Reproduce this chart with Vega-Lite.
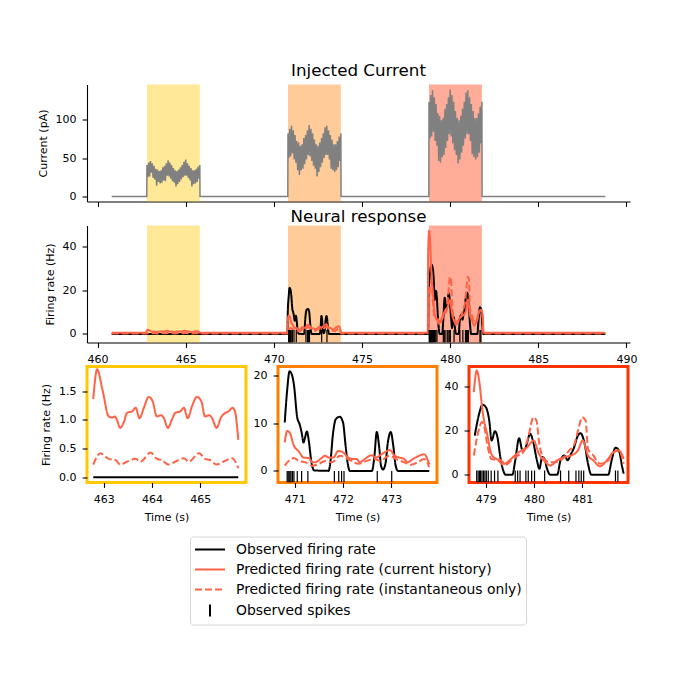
{
"$schema":"https://vega.github.io/schema/vega-lite/v6.json",
"autosize":{"type":"pad"},
"padding":{"left":37,"top":62.5,"right":5,"bottom":5},
"background":"white",
"config":{
 "font":"DejaVu Sans",
 "view":{"stroke":null},
 "axis":{"labelFont":"DejaVu Sans","titleFont":"DejaVu Sans","labelFontSize":11,"titleFontSize":11,"titleFontWeight":"normal","labelColor":"#000","titleColor":"#000","tickColor":"#000","domainColor":"#000","tickSize":4.9,"tickWidth":1.1,"domainWidth":1.1,"labelPadding":3.5,"titlePadding":6,"grid":false,"labelFlush":false,"labelOverlap":false},
 "axisX":{"labelPadding":6,"titlePadding":7},
 "axisY":{"labelPadding":6,"titlePadding":7},
 "title":{"font":"DejaVu Sans","fontSize":16.7,"fontWeight":"normal","color":"#000","anchor":"middle","frame":"group","baseline":"alphabetic"}
},
"datasets":{
 "spans":[{"k":1,"start":462.8,"end":465.8},{"k":2,"start":470.8,"end":473.8},{"k":3,"start":478.8,"end":481.8}],
 "current":[
{"t":460.8,"I":0},{"t":462.79,"I":0},
{"t":462.8,"I":41},{"t":462.85,"I":25},{"t":462.9,"I":44},{"t":462.95,"I":26},{"t":463.0,"I":46},{"t":463.05,"I":31},{"t":463.1,"I":43},{"t":463.15,"I":24},{"t":463.2,"I":40},{"t":463.25,"I":22},
{"t":463.3,"I":36},{"t":463.35,"I":14},{"t":463.4,"I":35},{"t":463.45,"I":19},{"t":463.5,"I":33},{"t":463.55,"I":17},{"t":463.6,"I":34},{"t":463.65,"I":18},{"t":463.7,"I":38},{"t":463.75,"I":21},
{"t":463.8,"I":40},{"t":463.85,"I":20},{"t":463.9,"I":43},{"t":463.95,"I":27},{"t":464.0,"I":47},{"t":464.05,"I":26},{"t":464.1,"I":44},{"t":464.15,"I":23},{"t":464.2,"I":41},{"t":464.25,"I":20},
{"t":464.3,"I":37},{"t":464.35,"I":18},{"t":464.4,"I":34},{"t":464.45,"I":13},{"t":464.5,"I":33},{"t":464.55,"I":16},{"t":464.6,"I":35},{"t":464.65,"I":19},{"t":464.7,"I":38},{"t":464.75,"I":22},
{"t":464.8,"I":41},{"t":464.85,"I":25},{"t":464.9,"I":45},{"t":464.95,"I":27},{"t":465.0,"I":48},{"t":465.05,"I":27},{"t":465.1,"I":43},{"t":465.15,"I":24},{"t":465.2,"I":40},{"t":465.25,"I":21},
{"t":465.3,"I":37},{"t":465.35,"I":13},{"t":465.4,"I":34},{"t":465.45,"I":16},{"t":465.5,"I":34},{"t":465.55,"I":17},{"t":465.6,"I":36},{"t":465.65,"I":19},{"t":465.7,"I":39},{"t":465.75,"I":23},
{"t":465.8,"I":41},
{"t":465.81,"I":0},{"t":470.79,"I":0},
{"t":470.8,"I":82},{"t":470.85,"I":50},{"t":470.9,"I":88},{"t":470.95,"I":52},{"t":471.0,"I":92},{"t":471.05,"I":56},{"t":471.1,"I":86},{"t":471.15,"I":48},{"t":471.2,"I":80},{"t":471.25,"I":44},
{"t":471.3,"I":72},{"t":471.35,"I":34},{"t":471.4,"I":70},{"t":471.45,"I":28},{"t":471.5,"I":66},{"t":471.55,"I":34},{"t":471.6,"I":68},{"t":471.65,"I":36},{"t":471.7,"I":76},{"t":471.75,"I":42},
{"t":471.8,"I":80},{"t":471.85,"I":48},{"t":471.9,"I":86},{"t":471.95,"I":54},{"t":472.0,"I":93},{"t":472.05,"I":52},{"t":472.1,"I":88},{"t":472.15,"I":46},{"t":472.2,"I":82},{"t":472.25,"I":40},
{"t":472.3,"I":74},{"t":472.35,"I":36},{"t":472.4,"I":68},{"t":472.45,"I":26},{"t":472.5,"I":66},{"t":472.55,"I":32},{"t":472.6,"I":70},{"t":472.65,"I":38},{"t":472.7,"I":76},{"t":472.75,"I":44},
{"t":472.8,"I":82},{"t":472.85,"I":50},{"t":472.9,"I":90},{"t":472.95,"I":54},{"t":473.0,"I":92},{"t":473.05,"I":54},{"t":473.1,"I":86},{"t":473.15,"I":48},{"t":473.2,"I":80},{"t":473.25,"I":36},
{"t":473.3,"I":74},{"t":473.35,"I":34},{"t":473.4,"I":68},{"t":473.45,"I":32},{"t":473.5,"I":68},{"t":473.55,"I":34},{"t":473.6,"I":72},{"t":473.65,"I":38},{"t":473.7,"I":78},{"t":473.75,"I":46},
{"t":473.8,"I":82},
{"t":473.81,"I":0},{"t":478.79,"I":0},
{"t":478.8,"I":123},{"t":478.85,"I":75},{"t":478.9,"I":132},{"t":478.95,"I":78},{"t":479.0,"I":138},{"t":479.05,"I":84},{"t":479.1,"I":129},{"t":479.15,"I":72},{"t":479.2,"I":120},{"t":479.25,"I":66},
{"t":479.3,"I":108},{"t":479.35,"I":46},{"t":479.4,"I":105},{"t":479.45,"I":44},{"t":479.5,"I":99},{"t":479.55,"I":51},{"t":479.6,"I":102},{"t":479.65,"I":54},{"t":479.7,"I":114},{"t":479.75,"I":63},
{"t":479.8,"I":120},{"t":479.85,"I":72},{"t":479.9,"I":129},{"t":479.95,"I":81},{"t":480.0,"I":139},{"t":480.05,"I":78},{"t":480.1,"I":132},{"t":480.15,"I":69},{"t":480.2,"I":123},{"t":480.25,"I":60},
{"t":480.3,"I":111},{"t":480.35,"I":54},{"t":480.4,"I":102},{"t":480.45,"I":43},{"t":480.5,"I":99},{"t":480.55,"I":48},{"t":480.6,"I":105},{"t":480.65,"I":57},{"t":480.7,"I":114},{"t":480.75,"I":66},
{"t":480.8,"I":123},{"t":480.85,"I":75},{"t":480.9,"I":135},{"t":480.95,"I":81},{"t":481.0,"I":138},{"t":481.05,"I":81},{"t":481.1,"I":129},{"t":481.15,"I":72},{"t":481.2,"I":120},{"t":481.25,"I":55},
{"t":481.3,"I":111},{"t":481.35,"I":51},{"t":481.4,"I":102},{"t":481.45,"I":48},{"t":481.5,"I":102},{"t":481.55,"I":51},{"t":481.6,"I":108},{"t":481.65,"I":57},{"t":481.7,"I":117},{"t":481.75,"I":69},
{"t":481.8,"I":123},
{"t":481.81,"I":0},{"t":488.8,"I":0}
 ],
 "neural":[
{"p":0,"s":"obs","t":460.8,"v":0},{"p":0,"s":"obs","t":462.76,"v":0},{"p":0,"s":"obs","t":465.81,"v":0},{"p":0,"s":"obs","t":470.77,"v":0},{"p":0,"s":"obs","t":473.81,"v":0},{"p":0,"s":"obs","t":478.75,"v":0},{"p":0,"s":"obs","t":481.88,"v":0},{"p":0,"s":"obs","t":488.8,"v":0},
{"p":1,"s":"obs","t":462.78,"v":0},{"p":1,"s":"obs","t":465.79,"v":0},
{"p":2,"s":"obs","t":470.79,"v":10.2},{"p":2,"s":"obs","t":470.84,"v":17},{"p":2,"s":"obs","t":470.89,"v":21},{"p":2,"s":"obs","t":470.93,"v":20.5},{"p":2,"s":"obs","t":470.98,"v":18.2},{"p":2,"s":"obs","t":471.05,"v":11.2},{"p":2,"s":"obs","t":471.1,"v":9.8},{"p":2,"s":"obs","t":471.14,"v":8.1},{"p":2,"s":"obs","t":471.18,"v":6},{"p":2,"s":"obs","t":471.21,"v":7},{"p":2,"s":"obs","t":471.25,"v":8.3},{"p":2,"s":"obs","t":471.29,"v":6.3},{"p":2,"s":"obs","t":471.34,"v":2.1},{"p":2,"s":"obs","t":471.4,"v":0.1},{"p":2,"s":"obs","t":471.7,"v":0},{"p":2,"s":"obs","t":471.74,"v":2.1},{"p":2,"s":"obs","t":471.79,"v":7.7},{"p":2,"s":"obs","t":471.85,"v":10.9},{"p":2,"s":"obs","t":471.93,"v":11.4},{"p":2,"s":"obs","t":472.0,"v":10.2},{"p":2,"s":"obs","t":472.05,"v":5.6},{"p":2,"s":"obs","t":472.1,"v":1.4},{"p":2,"s":"obs","t":472.14,"v":0},{"p":2,"s":"obs","t":472.6,"v":0},{"p":2,"s":"obs","t":472.65,"v":3},{"p":2,"s":"obs","t":472.7,"v":8.2},{"p":2,"s":"obs","t":472.75,"v":5},{"p":2,"s":"obs","t":472.79,"v":1},{"p":2,"s":"obs","t":472.83,"v":0.3},{"p":2,"s":"obs","t":472.88,"v":1.5},{"p":2,"s":"obs","t":472.93,"v":6},{"p":2,"s":"obs","t":472.99,"v":8.2},{"p":2,"s":"obs","t":473.04,"v":5.5},{"p":2,"s":"obs","t":473.09,"v":1.2},{"p":2,"s":"obs","t":473.14,"v":0},{"p":2,"s":"obs","t":473.79,"v":0},
{"p":3,"s":"obs","t":478.77,"v":17.7},{"p":3,"s":"obs","t":478.86,"v":27.5},{"p":3,"s":"obs","t":478.93,"v":31.6},{"p":3,"s":"obs","t":479.0,"v":30.5},{"p":3,"s":"obs","t":479.07,"v":24.5},{"p":3,"s":"obs","t":479.12,"v":15.5},{"p":3,"s":"obs","t":479.19,"v":19.7},{"p":3,"s":"obs","t":479.24,"v":17},{"p":3,"s":"obs","t":479.3,"v":8},{"p":3,"s":"obs","t":479.36,"v":2},{"p":3,"s":"obs","t":479.41,"v":0},{"p":3,"s":"obs","t":479.55,"v":0},{"p":3,"s":"obs","t":479.61,"v":6.5},{"p":3,"s":"obs","t":479.69,"v":16.5},{"p":3,"s":"obs","t":479.76,"v":11},{"p":3,"s":"obs","t":479.82,"v":12},{"p":3,"s":"obs","t":479.92,"v":18.5},{"p":3,"s":"obs","t":479.97,"v":16},{"p":3,"s":"obs","t":480.06,"v":6.5},{"p":3,"s":"obs","t":480.11,"v":2.7},{"p":3,"s":"obs","t":480.17,"v":8},{"p":3,"s":"obs","t":480.22,"v":7},{"p":3,"s":"obs","t":480.27,"v":2.7},{"p":3,"s":"obs","t":480.34,"v":0},{"p":3,"s":"obs","t":480.48,"v":0},{"p":3,"s":"obs","t":480.55,"v":6.5},{"p":3,"s":"obs","t":480.63,"v":8.7},{"p":3,"s":"obs","t":480.7,"v":6.5},{"p":3,"s":"obs","t":480.75,"v":8.7},{"p":3,"s":"obs","t":480.82,"v":11.7},{"p":3,"s":"obs","t":480.91,"v":17.7},{"p":3,"s":"obs","t":480.96,"v":18.8},{"p":3,"s":"obs","t":481.05,"v":14},{"p":3,"s":"obs","t":481.12,"v":5},{"p":3,"s":"obs","t":481.19,"v":0},{"p":3,"s":"obs","t":481.54,"v":0},{"p":3,"s":"obs","t":481.61,"v":6.5},{"p":3,"s":"obs","t":481.69,"v":12.2},{"p":3,"s":"obs","t":481.76,"v":11},{"p":3,"s":"obs","t":481.83,"v":3.5},{"p":3,"s":"obs","t":481.86,"v":0.5},
{"p":0,"s":"hist","t":460.8,"v":0.5},{"p":0,"s":"hist","t":462.76,"v":0.5},{"p":0,"s":"hist","t":465.81,"v":0.5},{"p":0,"s":"hist","t":470.77,"v":0.5},{"p":0,"s":"hist","t":473.81,"v":0.5},{"p":0,"s":"hist","t":478.73,"v":0.5},{"p":0,"s":"hist","t":481.88,"v":0.5},{"p":0,"s":"hist","t":488.8,"v":0.5},
{"p":1,"s":"hist","t":462.78,"v":1.36},{"p":1,"s":"hist","t":462.86,"v":1.88},{"p":1,"s":"hist","t":462.97,"v":1.53},{"p":1,"s":"hist","t":463.1,"v":1.06},{"p":1,"s":"hist","t":463.17,"v":1.04},{"p":1,"s":"hist","t":463.23,"v":1.06},{"p":1,"s":"hist","t":463.27,"v":1.0},{"p":1,"s":"hist","t":463.34,"v":0.86},{"p":1,"s":"hist","t":463.41,"v":0.95},{"p":1,"s":"hist","t":463.48,"v":1.12},{"p":1,"s":"hist","t":463.59,"v":1.15},{"p":1,"s":"hist","t":463.66,"v":1.21},{"p":1,"s":"hist","t":463.74,"v":1.03},{"p":1,"s":"hist","t":463.83,"v":1.21},{"p":1,"s":"hist","t":463.93,"v":1.4},{"p":1,"s":"hist","t":464.01,"v":1.33},{"p":1,"s":"hist","t":464.1,"v":1.06},{"p":1,"s":"hist","t":464.19,"v":1.08},{"p":1,"s":"hist","t":464.24,"v":1.04},{"p":1,"s":"hist","t":464.33,"v":0.86},{"p":1,"s":"hist","t":464.41,"v":1.0},{"p":1,"s":"hist","t":464.48,"v":1.12},{"p":1,"s":"hist","t":464.59,"v":1.15},{"p":1,"s":"hist","t":464.66,"v":1.21},{"p":1,"s":"hist","t":464.74,"v":1.03},{"p":1,"s":"hist","t":464.83,"v":1.24},{"p":1,"s":"hist","t":464.93,"v":1.4},{"p":1,"s":"hist","t":465.02,"v":1.33},{"p":1,"s":"hist","t":465.1,"v":1.06},{"p":1,"s":"hist","t":465.19,"v":1.08},{"p":1,"s":"hist","t":465.24,"v":1.04},{"p":1,"s":"hist","t":465.34,"v":0.86},{"p":1,"s":"hist","t":465.43,"v":1.04},{"p":1,"s":"hist","t":465.52,"v":1.12},{"p":1,"s":"hist","t":465.59,"v":1.15},{"p":1,"s":"hist","t":465.67,"v":1.21},{"p":1,"s":"hist","t":465.72,"v":1.15},{"p":1,"s":"hist","t":465.79,"v":0.65},
{"p":2,"s":"hist","t":470.79,"v":6},{"p":2,"s":"hist","t":470.84,"v":8.4},{"p":2,"s":"hist","t":470.89,"v":8.1},{"p":2,"s":"hist","t":470.98,"v":5.3},{"p":2,"s":"hist","t":471.08,"v":4.1},{"p":2,"s":"hist","t":471.18,"v":2.8},{"p":2,"s":"hist","t":471.29,"v":2.7},{"p":2,"s":"hist","t":471.36,"v":1.8},{"p":2,"s":"hist","t":471.42,"v":1.8},{"p":2,"s":"hist","t":471.53,"v":2.5},{"p":2,"s":"hist","t":471.63,"v":3.2},{"p":2,"s":"hist","t":471.7,"v":2.8},{"p":2,"s":"hist","t":471.8,"v":2.8},{"p":2,"s":"hist","t":471.9,"v":4.2},{"p":2,"s":"hist","t":472.0,"v":3.9},{"p":2,"s":"hist","t":472.11,"v":2.8},{"p":2,"s":"hist","t":472.21,"v":2.5},{"p":2,"s":"hist","t":472.28,"v":2.5},{"p":2,"s":"hist","t":472.35,"v":1.8},{"p":2,"s":"hist","t":472.45,"v":2.5},{"p":2,"s":"hist","t":472.59,"v":3.3},{"p":2,"s":"hist","t":472.69,"v":2.8},{"p":2,"s":"hist","t":472.76,"v":3.2},{"p":2,"s":"hist","t":472.86,"v":3.9},{"p":2,"s":"hist","t":472.97,"v":4.4},{"p":2,"s":"hist","t":473.07,"v":3.2},{"p":2,"s":"hist","t":473.17,"v":2.8},{"p":2,"s":"hist","t":473.27,"v":2.5},{"p":2,"s":"hist","t":473.34,"v":1.8},{"p":2,"s":"hist","t":473.45,"v":2.5},{"p":2,"s":"hist","t":473.58,"v":3.2},{"p":2,"s":"hist","t":473.68,"v":3.5},{"p":2,"s":"hist","t":473.79,"v":1.4},
{"p":3,"s":"hist","t":478.75,"v":37.3},{"p":3,"s":"hist","t":478.81,"v":47.1},{"p":3,"s":"hist","t":478.86,"v":42.6},{"p":3,"s":"hist","t":478.93,"v":29},{"p":3,"s":"hist","t":479.04,"v":17},{"p":3,"s":"hist","t":479.11,"v":9.5},{"p":3,"s":"hist","t":479.21,"v":7.2},{"p":3,"s":"hist","t":479.32,"v":6.5},{"p":3,"s":"hist","t":479.39,"v":5},{"p":3,"s":"hist","t":479.49,"v":6.5},{"p":3,"s":"hist","t":479.6,"v":8.7},{"p":3,"s":"hist","t":479.74,"v":11},{"p":3,"s":"hist","t":479.85,"v":12.2},{"p":3,"s":"hist","t":479.99,"v":15.5},{"p":3,"s":"hist","t":480.1,"v":9.5},{"p":3,"s":"hist","t":480.2,"v":6.5},{"p":3,"s":"hist","t":480.34,"v":4.2},{"p":3,"s":"hist","t":480.48,"v":6.5},{"p":3,"s":"hist","t":480.63,"v":8},{"p":3,"s":"hist","t":480.77,"v":8.7},{"p":3,"s":"hist","t":480.91,"v":11},{"p":3,"s":"hist","t":481.01,"v":15.5},{"p":3,"s":"hist","t":481.12,"v":8.7},{"p":3,"s":"hist","t":481.23,"v":6.5},{"p":3,"s":"hist","t":481.37,"v":3.8},{"p":3,"s":"hist","t":481.51,"v":6.5},{"p":3,"s":"hist","t":481.65,"v":10.2},{"p":3,"s":"hist","t":481.76,"v":11},{"p":3,"s":"hist","t":481.86,"v":7.2},
{"p":0,"s":"inst","t":460.8,"v":0.15},{"p":0,"s":"inst","t":462.76,"v":0.15},{"p":0,"s":"inst","t":465.81,"v":0.15},{"p":0,"s":"inst","t":470.77,"v":0.15},{"p":0,"s":"inst","t":473.81,"v":0.15},{"p":0,"s":"inst","t":478.73,"v":0.15},{"p":0,"s":"inst","t":481.88,"v":0.15},{"p":0,"s":"inst","t":488.8,"v":0.15},
{"p":1,"s":"inst","t":462.78,"v":0.22},{"p":1,"s":"inst","t":462.93,"v":0.42},{"p":1,"s":"inst","t":463.03,"v":0.36},{"p":1,"s":"inst","t":463.1,"v":0.32},{"p":1,"s":"inst","t":463.24,"v":0.3},{"p":1,"s":"inst","t":463.34,"v":0.22},{"p":1,"s":"inst","t":463.48,"v":0.27},{"p":1,"s":"inst","t":463.66,"v":0.32},{"p":1,"s":"inst","t":463.76,"v":0.27},{"p":1,"s":"inst","t":463.97,"v":0.43},{"p":1,"s":"inst","t":464.1,"v":0.32},{"p":1,"s":"inst","t":464.2,"v":0.3},{"p":1,"s":"inst","t":464.34,"v":0.22},{"p":1,"s":"inst","t":464.48,"v":0.27},{"p":1,"s":"inst","t":464.66,"v":0.33},{"p":1,"s":"inst","t":464.76,"v":0.27},{"p":1,"s":"inst","t":464.98,"v":0.42},{"p":1,"s":"inst","t":465.1,"v":0.32},{"p":1,"s":"inst","t":465.2,"v":0.3},{"p":1,"s":"inst","t":465.34,"v":0.22},{"p":1,"s":"inst","t":465.48,"v":0.27},{"p":1,"s":"inst","t":465.66,"v":0.33},{"p":1,"s":"inst","t":465.79,"v":0.16},
{"p":2,"s":"inst","t":470.79,"v":1.1},{"p":2,"s":"inst","t":470.88,"v":2.2},{"p":2,"s":"inst","t":470.98,"v":2.7},{"p":2,"s":"inst","t":471.08,"v":2.1},{"p":2,"s":"inst","t":471.22,"v":1.8},{"p":2,"s":"inst","t":471.36,"v":1.1},{"p":2,"s":"inst","t":471.49,"v":1.4},{"p":2,"s":"inst","t":471.63,"v":2.1},{"p":2,"s":"inst","t":471.77,"v":1.8},{"p":2,"s":"inst","t":471.94,"v":3.2},{"p":2,"s":"inst","t":472.04,"v":2.8},{"p":2,"s":"inst","t":472.18,"v":2.1},{"p":2,"s":"inst","t":472.32,"v":1.5},{"p":2,"s":"inst","t":472.49,"v":2.1},{"p":2,"s":"inst","t":472.66,"v":2.5},{"p":2,"s":"inst","t":472.76,"v":2.1},{"p":2,"s":"inst","t":472.97,"v":3.2},{"p":2,"s":"inst","t":473.1,"v":2.5},{"p":2,"s":"inst","t":473.27,"v":1.8},{"p":2,"s":"inst","t":473.41,"v":1.3},{"p":2,"s":"inst","t":473.55,"v":1.8},{"p":2,"s":"inst","t":473.68,"v":2.5},{"p":2,"s":"inst","t":473.79,"v":0.8},
{"p":3,"s":"inst","t":478.75,"v":8.7},{"p":3,"s":"inst","t":478.84,"v":19.2},{"p":3,"s":"inst","t":478.92,"v":23.8},{"p":3,"s":"inst","t":478.96,"v":22.3},{"p":3,"s":"inst","t":479.04,"v":12.5},{"p":3,"s":"inst","t":479.11,"v":7.2},{"p":3,"s":"inst","t":479.25,"v":6.5},{"p":3,"s":"inst","t":479.39,"v":4.2},{"p":3,"s":"inst","t":479.53,"v":6.5},{"p":3,"s":"inst","t":479.67,"v":8.7},{"p":3,"s":"inst","t":479.78,"v":10.2},{"p":3,"s":"inst","t":479.88,"v":17},{"p":3,"s":"inst","t":479.99,"v":26},{"p":3,"s":"inst","t":480.05,"v":24.5},{"p":3,"s":"inst","t":480.1,"v":15.5},{"p":3,"s":"inst","t":480.18,"v":8},{"p":3,"s":"inst","t":480.31,"v":5.7},{"p":3,"s":"inst","t":480.45,"v":5.7},{"p":3,"s":"inst","t":480.59,"v":7.2},{"p":3,"s":"inst","t":480.73,"v":11},{"p":3,"s":"inst","t":480.84,"v":14},{"p":3,"s":"inst","t":480.93,"v":21.5},{"p":3,"s":"inst","t":481.0,"v":26},{"p":3,"s":"inst","t":481.07,"v":24.5},{"p":3,"s":"inst","t":481.12,"v":11.7},{"p":3,"s":"inst","t":481.23,"v":8.7},{"p":3,"s":"inst","t":481.37,"v":5},{"p":3,"s":"inst","t":481.51,"v":5.7},{"p":3,"s":"inst","t":481.65,"v":10.2},{"p":3,"s":"inst","t":481.76,"v":11},{"p":3,"s":"inst","t":481.86,"v":5}
 ],
 "spikes":[
{"p":2,"t":470.84},{"p":2,"t":470.86},{"p":2,"t":470.88},{"p":2,"t":470.9},{"p":2,"t":470.92},{"p":2,"t":470.95},{"p":2,"t":470.98},{"p":2,"t":471.05},{"p":2,"t":471.14},{"p":2,"t":471.27},{"p":2,"t":471.82},{"p":2,"t":471.91},{"p":2,"t":471.97},{"p":2,"t":472.02},{"p":2,"t":472.71},{"p":2,"t":473.01},
{"p":3,"t":478.81},{"p":3,"t":478.84},{"p":3,"t":478.87},{"p":3,"t":478.89},{"p":3,"t":478.92},{"p":3,"t":478.95},{"p":3,"t":478.98},{"p":3,"t":479.01},{"p":3,"t":479.05},{"p":3,"t":479.11},{"p":3,"t":479.18},{"p":3,"t":479.25},{"p":3,"t":479.61},{"p":3,"t":479.66},{"p":3,"t":479.71},{"p":3,"t":479.83},{"p":3,"t":479.88},{"p":3,"t":479.95},{"p":3,"t":480.01},{"p":3,"t":480.22},{"p":3,"t":480.55},{"p":3,"t":480.72},{"p":3,"t":480.87},{"p":3,"t":480.93},{"p":3,"t":480.98},{"p":3,"t":481.03},{"p":3,"t":481.69},{"p":3,"t":481.74}
 ]
},
"spacing":24,
"bounds":"flush",
"vconcat":[
 {
  "width":543,"height":117,
  "title":{"text":"Injected Current","offset":4.5},
  "layer":[
   {"data":{"name":"spans"},"mark":{"type":"rect","opacity":0.4},
    "encoding":{
     "x":{"field":"start","type":"quantitative","title":null,"scale":{"domain":[459.4,490.2],"nice":false,"zero":false},"axis":{"values":[460,465,470,475,480,485,490],"labels":false,"title":null}},
     "x2":{"field":"end"},
     "fill":{"field":"k","type":"nominal","scale":{"domain":[1,2,3],"range":["#FFC800","#FF8000","#FF3300"]},"legend":null}}},
   {"data":{"name":"current"},"mark":{"type":"line","color":"#808080","strokeWidth":1.5},
    "encoding":{
     "x":{"field":"t","type":"quantitative","title":null},
     "y":{"field":"I","type":"quantitative","scale":{"domain":[-6.5,145.5],"nice":false,"zero":false},"axis":{"values":[0,50,100],"title":"Current (pA)"}}}}
  ]
 },
 {
  "width":543,"height":117,
  "title":{"text":"Neural response","offset":0},
  "layer":[
   {"data":{"name":"spans"},"mark":{"type":"rect","opacity":0.4},
    "encoding":{
     "x":{"field":"start","type":"quantitative","title":null,"scale":{"domain":[459.4,490.2],"nice":false,"zero":false},"axis":{"values":[460,465,470,475,480,485,490],"format":"d","title":null}},
     "x2":{"field":"end"},
     "fill":{"field":"k","type":"nominal","scale":{"domain":[1,2,3],"range":["#FFC800","#FF8000","#FF3300"]},"legend":null}}},
   {"data":{"name":"neural"},"mark":{"type":"line","strokeWidth":2,"interpolate":"monotone"},
    "encoding":{
     "x":{"field":"t","type":"quantitative","title":null},
     "y":{"field":"v","type":"quantitative","scale":{"domain":[-3.9,49.4],"nice":false,"zero":false},"axis":{"values":[0,20,40],"title":"Firing rate (Hz)"}},
     "stroke":{"field":"s","type":"nominal","scale":{"domain":["obs","hist","inst","spk"],"range":["#000000","#FF6347","#FF6347","#000000"]},
      "legend":{"orient":"none","legendX":103,"legendY":452,"title":null,
       "labelExpr":"datum.label==='obs' ? 'Observed firing rate' : datum.label==='hist' ? 'Predicted firing rate (current history)' : datum.label==='inst' ? 'Predicted firing rate (instantaneous only)' : 'Observed spikes'",
       "labelFont":"DejaVu Sans","labelFontSize":13.9,"labelColor":"#000","labelLimit":0,
       "symbolType":"M-1.875,0L1.875,0","symbolSize":256,"symbolStrokeWidth":2,"symbolOffset":7,"labelOffset":17,
       "rowPadding":4,"padding":4,"strokeColor":"#d6d6d6","cornerRadius":3,"fillColor":"#ffffff",
       "encode":{"symbols":{"update":{
         "shape":{"signal":"datum.value==='spk' ? 'M0,-0.75L0,0.75' : 'M-1.875,0L1.875,0'"},
         "strokeDash":{"signal":"datum.value==='inst' ? [7,3] : [1,0]"}}}}}},
     "strokeDash":{"field":"s","type":"nominal","scale":{"domain":["obs","hist","inst","spk"],"range":[[1,0],[1,0],[7,3],[1,0]]},"legend":null}}},
   {"data":{"name":"spikes"},"mark":{"type":"rule","strokeWidth":1.2,"clip":true},
    "encoding":{
     "x":{"field":"t","type":"quantitative","title":null},
     "y":{"datum":-3.9},"y2":{"datum":1.8},
     "stroke":{"datum":"spk","type":"nominal"}}}
  ]
 },
 {
  "spacing":32,
  "bounds":"flush",
  "hconcat":[
   {
    "width":159,"height":116,
    "view":{"stroke":"#FFC800","strokeWidth":3},
    "layer":[
     {"data":{"name":"neural"},"transform":[{"filter":"datum.p==1"}],"mark":{"type":"line","strokeWidth":2,"interpolate":"monotone","clip":true},
      "encoding":{
       "x":{"field":"t","type":"quantitative","scale":{"domain":[462.65,465.95],"nice":false,"zero":false},"axis":{"values":[463,464,465],"format":"d","domain":false,"title":"Time (s)"}},
       "y":{"field":"v","type":"quantitative","scale":{"domain":[-0.092,1.93],"nice":false,"zero":false},"axis":{"values":[0,0.5,1,1.5],"format":".1f","domain":false,"title":"Firing rate (Hz)"}},
       "stroke":{"field":"s","type":"nominal"},
       "strokeDash":{"field":"s","type":"nominal","legend":null}}}
    ]
   },
   {
    "width":159,"height":116,
    "view":{"stroke":"#FF8000","strokeWidth":3},
    "layer":[
     {"data":{"name":"neural"},"transform":[{"filter":"datum.p==2"}],"mark":{"type":"line","strokeWidth":2,"interpolate":"monotone","clip":true},
      "encoding":{
       "x":{"field":"t","type":"quantitative","scale":{"domain":[470.65,473.95],"nice":false,"zero":false},"axis":{"values":[471,472,473],"format":"d","domain":false,"title":"Time (s)"}},
       "y":{"field":"v","type":"quantitative","scale":{"domain":[-2.45,22],"nice":false,"zero":false},"axis":{"values":[0,5,10,15,20],"domain":false,"title":null}},
       "stroke":{"field":"s","type":"nominal"},
       "strokeDash":{"field":"s","type":"nominal","legend":null}}},
     {"data":{"name":"spikes"},"transform":[{"filter":"datum.p==2"}],"mark":{"type":"rule","strokeWidth":1.2,"clip":true},
      "encoding":{
       "x":{"field":"t","type":"quantitative","title":"Time (s)"},
       "y":{"datum":-2.45},"y2":{"datum":0},
       "stroke":{"datum":"spk","type":"nominal"}}}
    ]
   },
   {
    "width":159,"height":116,
    "view":{"stroke":"#FF3300","strokeWidth":3},
    "layer":[
     {"data":{"name":"neural"},"transform":[{"filter":"datum.p==3"}],"mark":{"type":"line","strokeWidth":2,"interpolate":"monotone","clip":true},
      "encoding":{
       "x":{"field":"t","type":"quantitative","scale":{"domain":[478.65,481.95],"nice":false,"zero":false},"axis":{"values":[479,480,481],"format":"d","domain":false,"title":"Time (s)"}},
       "y":{"field":"v","type":"quantitative","scale":{"domain":[-3.5,48.9],"nice":false,"zero":false},"axis":{"values":[0,20,40],"domain":false,"title":null}},
       "stroke":{"field":"s","type":"nominal"},
       "strokeDash":{"field":"s","type":"nominal","legend":null}}},
     {"data":{"name":"spikes"},"transform":[{"filter":"datum.p==3"}],"mark":{"type":"rule","strokeWidth":1.2,"clip":true},
      "encoding":{
       "x":{"field":"t","type":"quantitative","title":"Time (s)"},
       "y":{"datum":-3.5},"y2":{"datum":1.9},
       "stroke":{"datum":"spk","type":"nominal"}}}
    ]
   }
  ]
 }
]
}
